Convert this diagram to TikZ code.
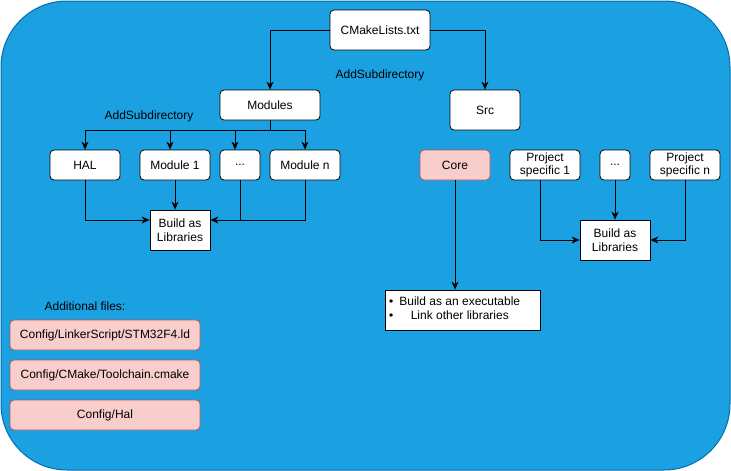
\documentclass[tikz,border=0pt]{standalone}
\usepackage{fontspec}
\setmainfont{Liberation Sans}
\usetikzlibrary{arrows.meta}
\definecolor{bgfill}{HTML}{1BA1E2}
\definecolor{bgline}{HTML}{006EAF}
\definecolor{pinkfill}{HTML}{F8CECC}
\definecolor{pinkline}{HTML}{B85450}
\begin{document}
\begin{tikzpicture}[x=1pt,y=-1pt,
  every node/.style={font=\fontsize{12}{13.5}\selectfont, inner sep=0pt, align=center},
  rbox/.style={draw=black, fill=white, rounded corners=4pt, line width=0.8pt},
  sbox/.style={draw=black, fill=white, line width=0.8pt},
  pbox/.style={draw=pinkline, fill=pinkfill, rounded corners=4pt, line width=0.8pt},
  arr/.style={draw=black, line width=0.8pt, -{Stealth[length=8pt,width=7pt,inset=2.5pt]}},
  plain/.style={draw=black, line width=0.8pt}]
\useasboundingbox (0,0) rectangle (731,471);
\draw[draw=bgline, fill=bgfill, line width=1pt, rounded corners=66pt] (1,1) rectangle (730,470);

% top level
\node[rbox, minimum width=100pt, minimum height=40pt] (cm) at (380,30) {CMakeLists.txt};
\node[rbox, minimum width=100pt, minimum height=30pt] (mod) at (270,105) {Modules};
\node[rbox, minimum width=70pt, minimum height=40pt] (src) at (485,110) {Src};
\node (lab1) at (380,75) {AddSubdirectory};
\node (lab2) at (149,116) {AddSubdirectory};

% module row
\node[rbox, minimum width=70pt, minimum height=30pt] (hal) at (85,165) {HAL};
\node[rbox, minimum width=70pt, minimum height=30pt] (m1) at (175,165) {Module 1};
\node[rbox, minimum width=40pt, minimum height=30pt] (md) at (240,165) {...};
\node[rbox, minimum width=70pt, minimum height=30pt] (mn) at (305,165) {Module n};
\node[sbox, minimum width=60pt, minimum height=40pt] (lib1) at (180,230) {Build as\\Libraries};

% src row
\node[pbox, minimum width=70pt, minimum height=30pt] (core) at (455,165) {Core};
\node[rbox, minimum width=70pt, minimum height=30pt] (ps1) at (545,165) {Project\\specific 1};
\node[rbox, minimum width=30pt, minimum height=30pt] (sd) at (615,165) {...};
\node[rbox, minimum width=70pt, minimum height=30pt] (psn) at (685,165) {Project\\specific n};
\node[sbox, minimum width=70pt, minimum height=40pt] (lib2) at (615,240) {Build as\\Libraries};

\node[sbox, minimum width=155pt, minimum height=40pt] (exe) at (462.5,310) {};
\node[anchor=west] (exetxt) at (389,310) {\begin{tabular}{@{}l@{\hspace{6pt}}c@{}}\textbullet & Build as an executable\\[0pt] \textbullet & Link other libraries\end{tabular}};

% additional files
\node (add) at (85,306) {Additional files:};
\node[pbox, minimum width=190pt, minimum height=30pt] (f1) at (105,335) {Config/LinkerScript/STM32F4.ld};
\node[pbox, minimum width=190pt, minimum height=30pt] (f2) at (105,375) {Config/CMake/Toolchain.cmake};
\node[pbox, minimum width=190pt, minimum height=30pt] (f3) at (105,415) {Config/Hal};

% connectors
\draw[arr] (cm.west) -| (mod.north);
\draw[arr] (cm.east) -| (src.north);
\coordinate (br) at (270,130);
\draw[plain] (mod.south) -- (br);
\draw[arr] (br) -| (hal.north);
\draw[arr] (br) -| ([xshift=-5pt]m1.north);
\draw[arr] (br) -| ([xshift=-5pt]md.north);
\draw[arr] (br) -| (mn.north);
\draw[arr] (hal.south) |- ([yshift=10pt]lib1.west);
\draw[arr] (m1.south) -- (m1.south |- lib1.north);
\draw[arr] (md.south) |- ([yshift=10pt]lib1.east);
\draw[plain] (mn.south) |- ([yshift=10pt]lib1.east -| md.south);

\draw[arr] ([xshift=-5pt]ps1.south) |- (lib2.west);
\draw[arr] (sd.south) -- (lib2.north);
\draw[arr] (psn.south) |- (lib2.east);
\draw[arr] (core.south) -- (core.south |- exe.north);
\end{tikzpicture}
\end{document}
